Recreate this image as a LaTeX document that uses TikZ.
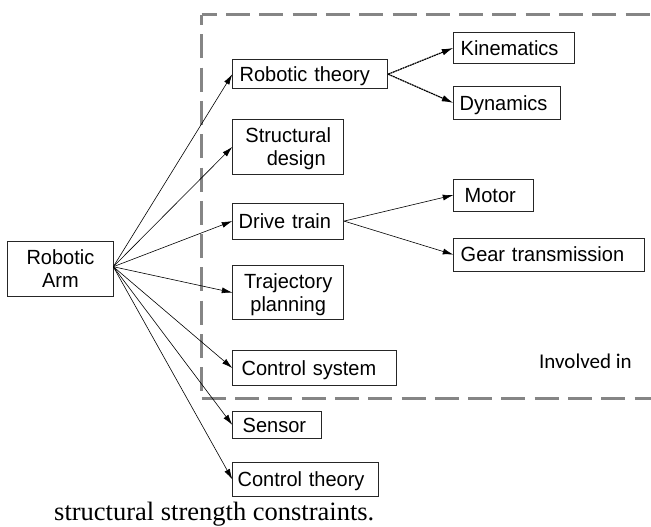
\documentclass[tikz,border=0pt]{standalone}
\usepackage{fontspec}
\setmainfont[FakeStretch=0.975]{Liberation Sans}
\newfontfamily\capfont{Liberation Serif}
\newfontfamily\invfont{Carlito}
\usetikzlibrary{arrows.meta}
\begin{document}
\begin{tikzpicture}[x=1pt,y=-1pt,
  box/.style={draw=black!85, line width=0.8pt, rectangle, anchor=north west,
    inner ysep=0pt, align=left, text height=14.7pt, text depth=0pt,
    font=\fontsize{20.5}{23}\selectfont},
  twoline/.style={align=center, text depth=23pt},
  arr/.style={-{Latex[length=10.5pt,width=6pt]}, line width=0.6pt},
  rough/.style={-{Latex[length=11.5pt,width=6.5pt]}, line width=1.2pt, dash pattern=on 2pt off 0.6pt},
  dashbox/.style={draw=black!48, line width=3pt, dash pattern=on 24pt off 9.3pt}]
\useasboundingbox (0,0) rectangle (651,527);

% dashed frame
\draw[dashbox, dash phase=9pt] (201.7,15) -- (665,15);
\draw[dashbox, dash phase=14pt] (201.7,15) -- (201.7,398.7);
\draw[dashbox] (201.7,398.7) -- (665,398.7);

% nodes
\node[box, twoline, minimum width=106.6pt, minimum height=54.7pt, inner xsep=4pt, text width=98.6pt]
  (arm) at (6.7,241.3) {Robotic\hspace*{10pt}\\Arm\hspace*{10pt}};
\node[box, minimum width=155pt, minimum height=29pt, inner xsep=7pt, text width=141pt]
  (rt) at (232.3,59.3) {Robotic theory};
\node[box, twoline, minimum width=111pt, minimum height=55pt, inner xsep=4pt, text width=103pt]
  (sd) at (232.3,119) {Structural\\\hspace*{16pt}design};
\node[box, minimum width=111pt, minimum height=36pt, inner xsep=6pt, text width=99pt]
  (dt) at (232.3,202.7) {Drive train};
\node[box, twoline, minimum width=111pt, minimum height=54.3pt, inner xsep=4pt, text width=103pt]
  (tp) at (232.3,265) {Trajectory\hspace*{13pt}\\planning\hspace*{9pt}};
\node[box, minimum width=163.7pt, minimum height=35.3pt, inner xsep=9pt, text width=145.7pt]
  (cs) at (232.3,350) {Control system};
\node[box, minimum width=88.7pt, minimum height=27pt, inner xsep=10pt, text width=68.7pt]
  (se) at (232.3,411) {Sensor};
\node[box, minimum width=146pt, minimum height=34pt, inner xsep=5pt, text width=136pt]
  (ct) at (232.3,462) {Control theory};
\node[box, minimum width=120.4pt, minimum height=30.4pt, inner xsep=7pt, text width=106.4pt]
  (ki) at (453.3,32.3) {Kinematics};
\node[box, minimum width=106.7pt, minimum height=33pt, inner xsep=6pt, text width=94.7pt]
  (dy) at (453.3,86) {Dynamics};
\node[box, minimum width=80pt, minimum height=32pt, inner xsep=11pt, text width=58pt]
  (mo) at (453.3,178.7) {Motor};
\node[box, minimum width=190.4pt, minimum height=33pt, inner xsep=7pt, text width=176.4pt]
  (ge) at (453.3,237.7) {Gear transmission};

\node[anchor=base west, inner sep=0pt, font=\invfont\fontsize{21}{24}\selectfont]
  (inv) at (539,368.3) {Involved in};
\node[anchor=base west, inner sep=0pt, font=\capfont\fontsize{26.5}{30}\selectfont]
  (cap) at (54,520.3) {structural strength constraints.};

% connectors
\coordinate (fan) at (113.3,266.7);
\foreach \t in {rt,sd,dt,tp,cs,se,ct}
  \draw[arr] (fan) -- (\t.west);
\draw[rough] (rt.east) -- (ki.west);
\draw[rough] (rt.east) -- (dy.west);
\draw[arr] (dt.east) -- (mo.west);
\draw[arr] (dt.east) -- (ge.west);
\end{tikzpicture}
\end{document}
